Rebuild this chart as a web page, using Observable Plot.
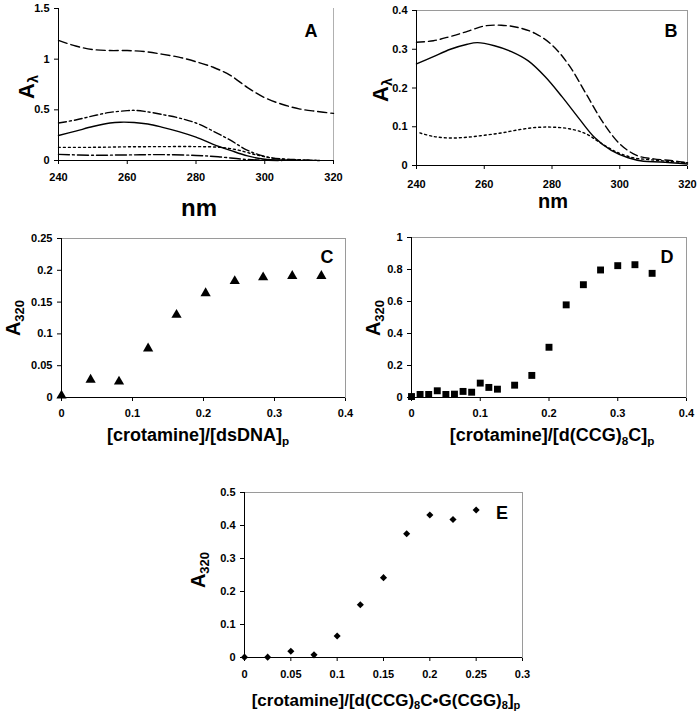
<!DOCTYPE html>
<html><head><meta charset="utf-8">
<script src="https://cdn.jsdelivr.net/npm/d3@7"></script>
<script src="https://cdn.jsdelivr.net/npm/@observablehq/plot@0.6"></script>
<style>
body{margin:0;background:#fff;}
#root{position:relative;width:699px;height:720px;overflow:hidden;font-family:"Liberation Sans",Arial,sans-serif;font-weight:bold;color:#000;}
.t{position:absolute;white-space:nowrap;font-weight:bold;line-height:1;}
.t sub{font-size:0.65em;vertical-align:-0.3em;line-height:0;}
</style></head><body><div id="root"></div><script>
// ---------- Panel A : absorbance spectra ----------
const nmA1 = [240,245,250,255,260,265,270,275,280,285,290,295,300,305,310,315,320];
const absA1 = [1.185,1.13,1.095,1.085,1.085,1.075,1.05,1.02,0.975,0.92,0.84,0.72,0.62,0.555,0.51,0.485,0.465];
const nmA2 = [240,245,250,255,260,262,265,270,275,280,285,290,295,300,305,310,315];
const absA2 = [0.37,0.40,0.44,0.475,0.492,0.495,0.485,0.455,0.42,0.37,0.29,0.2,0.1,0.04,0.015,0.008,0.003];
const nmA3 = [240,245,250,255,258,262,266,270,275,280,285,290,295,300,305,310];
const absA3 = [0.247,0.29,0.335,0.37,0.378,0.375,0.36,0.33,0.285,0.23,0.16,0.1,0.045,0.012,0.005,0.003];
const nmA4 = [240,250,260,270,280,287,292,297,302,307,312,316];
const absA4 = [0.13,0.13,0.135,0.137,0.137,0.13,0.105,0.06,0.025,0.01,0.003,0];
const nmA5 = [240,250,260,270,280,287,293,298,305];
const absA5 = [0.06,0.052,0.055,0.058,0.05,0.035,0.015,0.005,0];
// ---------- Panel B ----------
const nmB1 = [240,245,250,255,260,265,270,275,280,285,290,295,300,305,310,315,320];
const absB1 = [0.318,0.322,0.333,0.346,0.360,0.362,0.356,0.341,0.311,0.259,0.186,0.112,0.056,0.026,0.017,0.013,0.007];
const nmB2 = [240,245,250,255,258,263,268,273,278,283,288,292.5,297.5,302.5,307,312,320];
const absB2 = [0.262,0.281,0.300,0.313,0.317,0.309,0.294,0.270,0.229,0.177,0.121,0.073,0.039,0.020,0.011,0.009,0.004];
const nmB3 = [241,245,250,255,260,265,270,275,280,285,290,294,299,304,309,314,320];
const absB3 = [0.084,0.075,0.071,0.073,0.078,0.084,0.092,0.098,0.099,0.095,0.082,0.060,0.035,0.020,0.015,0.011,0.007];
// ---------- Panel C ----------
const ratioC = [0,0.041,0.081,0.122,0.162,0.203,0.244,0.284,0.325,0.366];
const a320C = [0.003,0.028,0.025,0.077,0.13,0.164,0.183,0.189,0.191,0.191];
// ---------- Panel D ----------
const ratioD = [0,0.0125,0.025,0.0375,0.05,0.0625,0.075,0.0875,0.1,0.1125,0.125,0.15,0.175,0.2,0.225,0.25,0.275,0.3,0.325,0.35];
const a320D = [0.006,0.019,0.019,0.042,0.019,0.021,0.038,0.033,0.09,0.063,0.052,0.077,0.138,0.314,0.579,0.705,0.797,0.824,0.83,0.776];
// ---------- Panel E ----------
const ratioE = [0,0.025,0.05,0.075,0.1,0.125,0.15,0.175,0.2,0.225,0.25];
const a320E = [0.001,0.001,0.019,0.008,0.065,0.16,0.242,0.375,0.432,0.418,0.447];
// ---------- tick values ----------
const ticksNm = [240,260,280,300,320];
const ticksA = [0,0.5,1,1.5];
const ticksB = [0,0.1,0.2,0.3,0.4];
const ticksC = [0,0.05,0.1,0.15,0.2,0.25];
const ticksD = [0,0.2,0.4,0.6,0.8,1];
const ticksE = [0,0.1,0.2,0.3,0.4,0.5];
const ticksR4 = [0,0.1,0.2,0.3,0.4];
const ticksR3 = [0,0.05,0.1,0.15,0.2,0.25,0.3];

const root = document.getElementById("root");
const tf = d => String(+(+d).toFixed(3));
const zip = (xs, ys) => xs.map((x, i) => ({x, y: ys[i]}));

function panel({left, top, right, bottom, xd, xt, yd, yt, marks, frame = true, xPad = 8, yPad = 5}) {
  const ml = 45, mr = 16, mt = 8, mb = 30;
  const svg = Plot.plot({
    width: right - left + ml + mr,
    height: bottom - top + mt + mb,
    marginLeft: ml, marginRight: mr, marginTop: mt, marginBottom: mb,
    style: {fontFamily: '"Liberation Sans", Arial, sans-serif', fontWeight: "bold", fontSize: "11px", background: "transparent", overflow: "visible", color: "#000"},
    x: {domain: xd, ticks: xt, tickFormat: tf, tickSize: 4, tickPadding: xPad, label: null},
    y: {domain: yd, ticks: yt, tickFormat: tf, tickSize: 4, tickPadding: yPad, label: null},
    marks: [
      frame ? Plot.frame({stroke: "#9a9a9a", strokeWidth: 1}) : Plot.ruleX([xd[1]], {stroke: "#b0b0b0", strokeWidth: 1}),
      ...marks,
      Plot.ruleX([xd[0]], {stroke: "#000", strokeWidth: 1}),
      Plot.ruleY([yd[0]], {stroke: "#000", strokeWidth: 1})
    ]
  });
  svg.style.position = "absolute";
  svg.style.left = (left - ml) + "px";
  svg.style.top = (top - mt) + "px";
  root.appendChild(svg);
}

function text(html, cx, baseline, size, rotate = false) {
  const d = document.createElement("div");
  d.className = "t";
  d.innerHTML = html;
  d.style.fontSize = size + "px";
  if (rotate) {
    d.style.left = cx + "px";
    d.style.top = baseline + "px";
    d.style.transform = "translate(-50%,-50%) rotate(-90deg)";
  } else {
    d.style.left = cx + "px";
    d.style.top = (baseline - 0.85 * size) + "px";
    d.style.transform = "translateX(-50%)";
  }
  root.appendChild(d);
}

const line = (xs, ys, dash) => Plot.line(zip(xs, ys), {x: "x", y: "y", stroke: "#000", strokeWidth: 1.4, strokeDasharray: dash, curve: "catmull-rom"});

// Panel A
panel({left: 58, top: 8, right: 333, bottom: 160, xd: [240, 320], xt: ticksNm, yd: [0, 1.5], yt: ticksA, frame: false, xPad: 9,
  marks: [
    line(nmA1, absA1, "9,4"),
    line(nmA2, absA2, "8,3,2,3"),
    line(nmA3, absA3, null),
    line(nmA4, absA4, "2,3"),
    line(nmA5, absA5, "11,3,2,3")
  ]});
// Panel B
panel({left: 416, top: 10, right: 687, bottom: 165, xd: [240, 320], xt: ticksNm, yd: [0, 0.4], yt: ticksB, xPad: 11,
  marks: [
    line(nmB1, absB1, "8,4"),
    line(nmB2, absB2, null),
    line(nmB3, absB3, "2,3")
  ]});
// Panel C
panel({left: 61, top: 238, right: 345, bottom: 397, xd: [0, 0.4], xt: ticksR4, yd: [0, 0.25], yt: ticksC,
  marks: [Plot.dot(zip(ratioC, a320C), {x: "x", y: "y", symbol: "triangle", r: 3.8, fill: "#000", stroke: "none"})]});
// Panel D
panel({left: 411, top: 237, right: 686, bottom: 397, xd: [0, 0.4], xt: ticksR4, yd: [0, 1], yt: ticksD,
  marks: [Plot.dot(zip(ratioD, a320D), {x: "x", y: "y", symbol: "square", r: 3.9, fill: "#000", stroke: "none"})]});
// Panel E
panel({left: 244, top: 492, right: 522, bottom: 657, xd: [0, 0.3], xt: ticksR3, yd: [0, 0.5], yt: ticksE, xPad: 9,
  marks: [Plot.dot(zip(ratioE, a320E), {x: "x", y: "y", symbol: "diamond2", r: 3.2, fill: "#000", stroke: "none"})]});

// Titles
text("nm", 199, 216, 24);
text("nm", 553, 208, 20);
text("A<sub>λ</sub>", 27, 87, 22, true);
text("A<sub>λ</sub>", 381, 90, 22, true);
text("A<sub>320</sub>", 13, 318, 20, true);
text("A<sub>320</sub>", 373, 318, 20, true);
text("A<sub>320</sub>", 198, 570, 20, true);
text("[crotamine]/[dsDNA]<sub>p</sub>", 198, 441, 18);
text("[crotamine]/[d(CCG)<sub>8</sub>C]<sub>p</sub>", 552, 441, 18);
text("[crotamine]/[d(CCG)<sub>8</sub>C•G(CGG)<sub>8</sub>]<sub>p</sub>", 386, 706, 17);
text("A", 311, 37, 18);
text("B", 671, 37, 18);
text("C", 327, 263, 18);
text("D", 667, 263, 18);
text("E", 502, 519, 18);
</script></body></html>
